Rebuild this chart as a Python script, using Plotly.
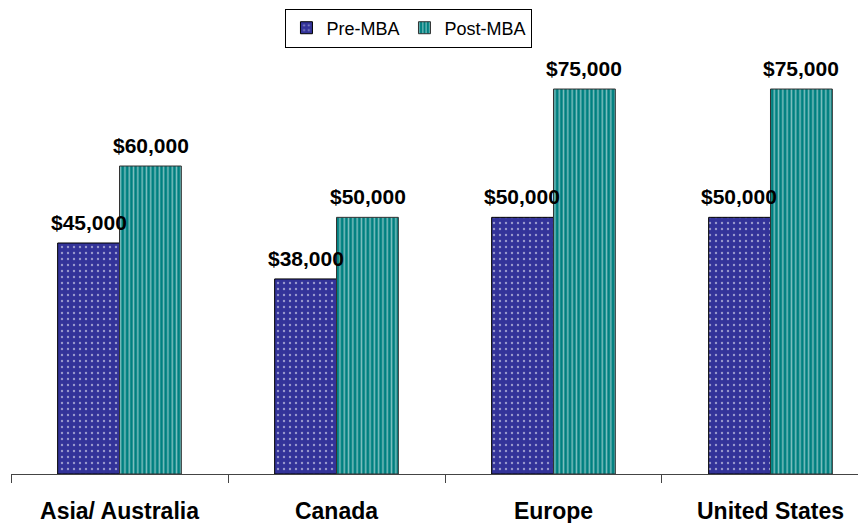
import plotly.graph_objects as go

categories = ["Asia/ Australia", "Canada", "Europe", "United States"]
pre_mba = [45000, 38000, 50000, 50000]
post_mba = [60000, 50000, 75000, 75000]

FONT = "Liberation Sans, Arial, sans-serif"
HALF_BAR_PX = 31  # horizontal offset of each grouped bar from category centre

fig = go.Figure()
fig.add_trace(go.Bar(
    name="Pre-MBA", x=categories, y=pre_mba,
    marker=dict(color="#333399", line=dict(color="black", width=1),
                pattern=dict(shape=".", fgcolor="#ffffff", bgcolor="#333399",
                             size=6, solidity=0.12)),
))
fig.add_trace(go.Bar(
    name="Post-MBA", x=categories, y=post_mba,
    marker=dict(color="#008080", line=dict(color="#333333", width=1),
                pattern=dict(shape="|", fgcolor="#ffffff", bgcolor="#008080",
                             size=4.3, solidity=0.35)),
))

for series, shift in ((pre_mba, -HALF_BAR_PX), (post_mba, HALF_BAR_PX)):
    for cat, val in zip(categories, series):
        fig.add_annotation(
            x=cat, y=val, xref="x", yref="y", text=f"${val:,}",
            showarrow=False, xanchor="center", yanchor="bottom",
            xshift=shift, yshift=7,
            font=dict(family=FONT, size=21, color="black", weight="bold"),
        )

fig.update_layout(
    width=866, height=523,
    margin=dict(l=3, r=0, t=32, b=57, autoexpand=False),
    barmode="group", bargap=0.43, bargroupgap=0,
    paper_bgcolor="white", plot_bgcolor="white",
    font=dict(family=FONT, color="black"),
    showlegend=True,
    legend=dict(orientation="h", xref="container", yref="container",
                x=0.463, xanchor="center", y=0.999, yanchor="top",
                bordercolor="black", borderwidth=1, bgcolor="white",
                font=dict(family=FONT, size=18, color="black"),
                itemwidth=30, tracegroupgap=0),
    xaxis=dict(type="category", range=[-0.5, 3.477], tickson="boundaries",
               ticks="outside", ticklen=8, tickcolor="#444", showline=True,
               linecolor="#444", linewidth=1, showgrid=False, automargin=False,
               ticklabelstandoff=16,
               tickfont=dict(family=FONT, size=23, color="black", weight="bold")),
    yaxis=dict(range=[0, 84550], visible=False, showgrid=False, zeroline=False),
)

fig.write_html("out.html")
